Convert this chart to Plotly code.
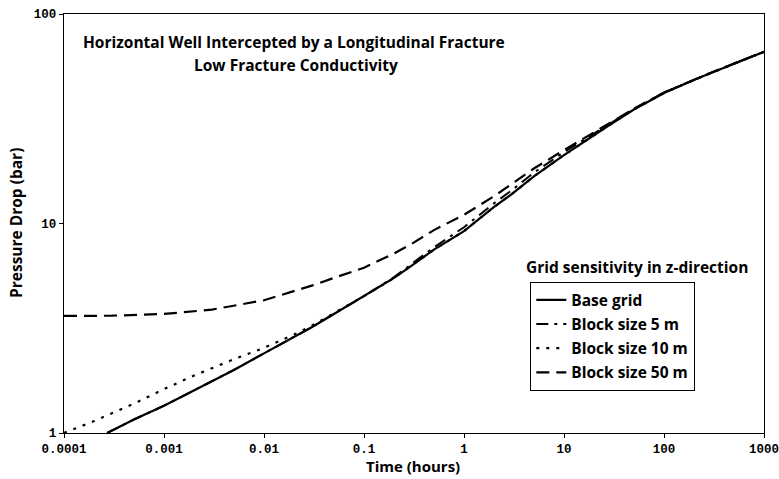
import plotly.graph_objects as go

# ---- data ----
base_t = [0.00027, 0.0005, 0.001, 0.002, 0.003, 0.005, 0.01, 0.02, 0.03, 0.05, 0.1, 0.2, 0.3, 0.5,
          1, 2, 3, 5, 10, 20, 30, 50, 100, 200, 300, 500, 1000]
base_p = [1.0, 1.16, 1.35, 1.6, 1.76, 2.0, 2.4, 2.87, 3.2, 3.7, 4.5, 5.5, 6.3, 7.5,
          9.2, 12.0, 13.8, 16.8, 21.2, 26.5, 30.0, 35.0, 42.0, 48.5, 52.5, 58.0, 66.0]

b5_t = [0.00027, 0.0005, 0.001, 0.002, 0.003, 0.005, 0.01, 0.02, 0.03, 0.05, 0.1, 0.2, 0.3, 0.5,
        1, 2, 3, 5, 10, 20, 30, 50, 100, 200, 300, 500, 1000]
b5_p = [1.0, 1.16, 1.35, 1.6, 1.76, 2.0, 2.4, 2.87, 3.2, 3.7, 4.5, 5.55, 6.4, 7.7,
        9.6, 12.5, 14.4, 17.5, 21.9, 27.0, 30.4, 35.3, 42.2, 48.6, 52.6, 58.0, 66.0]

b10_t = [0.0001, 0.0002, 0.0005, 0.001, 0.002, 0.005, 0.01, 0.02, 0.03, 0.05, 0.1, 0.2, 0.3, 0.5,
         1, 2, 3, 5, 10, 20, 30, 50, 100, 200, 300, 500, 1000]
b10_p = [1.0, 1.14, 1.38, 1.62, 1.88, 2.25, 2.55, 2.95, 3.25, 3.72, 4.5, 5.5, 6.3, 7.5,
         9.2, 12.0, 13.8, 16.8, 21.2, 26.5, 30.0, 35.0, 42.0, 48.5, 52.5, 58.0, 66.0]

b50_t = [0.0001, 0.0003, 0.001, 0.003, 0.01, 0.03, 0.05, 0.1, 0.2, 0.3, 0.5, 1, 2, 3, 5, 10, 20,
         30, 50, 100, 200, 300, 500, 1000]
b50_p = [3.62, 3.63, 3.70, 3.88, 4.3, 5.05, 5.5, 6.15, 7.2, 8.0, 9.3, 11.0, 13.5, 15.4, 18.3, 22.4,
         27.3, 30.5, 35.3, 42.1, 48.6, 52.6, 58.0, 66.0]

x_ticks = [0.0001, 0.001, 0.01, 0.1, 1, 10, 100, 1000]
x_tick_labels = ["0.0001", "0.001", "0.01", "0.1", "1", "10", "100", "1000"]
y_ticks = [1, 10, 100]
y_tick_labels = ["1", "10", "100"]

legend_names = ["Base grid", "Block size 5 m", "Block size 10 m", "Block size 50 m"]

fig = go.Figure()
fig.add_trace(go.Scatter(x=base_t, y=base_p, mode="lines", name="<b>" + legend_names[0] + "</b>",
                         legendgroup="g0", line=dict(color="black", width=2.2)))
fig.add_trace(go.Scatter(x=b5_t, y=b5_p, mode="lines", name="<b>" + legend_names[1] + "</b>",
                         legendgroup="g1", line=dict(color="black", width=2, dash="12px,6px,3px,6px")))
fig.add_trace(go.Scatter(x=b10_t, y=b10_p, mode="lines", name="<b>" + legend_names[2] + "</b>",
                         legendgroup="g2", line=dict(color="black", width=2.2, dash="3px,7px")))
fig.add_trace(go.Scatter(x=b50_t, y=b50_p, mode="lines", name="<b>" + legend_names[3] + "</b>",
                         legendgroup="g3", line=dict(color="black", width=2.2, dash="13px,7px")))

tick_font = dict(family="Liberation Mono", size=12.5, color="black")
axis_common = dict(showgrid=False, zeroline=False, showline=True, linecolor="black", linewidth=1.3,
                   mirror=True, ticks="outside", ticklen=4, tickcolor="black", tickfont=tick_font,
                   automargin=False, ticklabeloverflow="allow")
fig.update_xaxes(type="log", range=[-4, 3], tickvals=x_ticks,
                 ticktext=["<b>" + t + "</b>" for t in x_tick_labels], **axis_common)
fig.update_yaxes(type="log", range=[0, 2], tickvals=y_ticks,
                 ticktext=["<b>" + t + "</b>" for t in y_tick_labels], **axis_common)

W_PLOT = 700
txt_font = dict(family="Open Sans", size=15.5, color="black")
fig.add_annotation(text="<b>Horizontal Well Intercepted by a Longitudinal Fracture</b>",
                   xref="paper", yref="paper", x=(294 - 64) / W_PLOT, y=(433 - 42) / 419,
                   showarrow=False, xanchor="center", yanchor="middle", font=txt_font)
fig.add_annotation(text="<b>Low Fracture Conductivity</b>",
                   xref="paper", yref="paper", x=(296 - 64) / W_PLOT, y=(433 - 65) / 419,
                   showarrow=False, xanchor="center", yanchor="middle", font=txt_font)
fig.add_annotation(text="<b>Grid sensitivity in z-direction</b>",
                   xref="paper", yref="paper", x=(637 - 64) / W_PLOT, y=(433 - 267) / 419,
                   showarrow=False, xanchor="center", yanchor="middle", font=txt_font)
fig.add_annotation(text="<b>Time (hours)</b>",
                   xref="paper", yref="paper", x=(413 - 64) / W_PLOT, y=(433 - 466) / 419,
                   showarrow=False, xanchor="center", yanchor="middle",
                   font=dict(family="Open Sans", size=15, color="black"))
fig.add_annotation(text="<b>Pressure Drop (bar)</b>",
                   xref="paper", yref="paper", x=(16 - 64) / W_PLOT, y=(433 - 223) / 419,
                   showarrow=False, xanchor="center", yanchor="middle", textangle=-90,
                   font=dict(family="Open Sans", size=15.5, color="black"))

fig.update_layout(
    width=779, height=479,
    margin=dict(l=64, r=15, t=14, b=46, autoexpand=False),
    paper_bgcolor="white", plot_bgcolor="white",
    showlegend=True,
    legend=dict(x=(530 - 64) / W_PLOT, y=(433 - 282) / 419, xanchor="left", yanchor="top",
                bordercolor="black", borderwidth=1.3, bgcolor="white",
                font=dict(family="Open Sans", size=15.5, color="black"),
                tracegroupgap=1, itemwidth=30),
)

fig.write_html("out.html", config={"displayModeBar": False},
               post_script="document.body.style.margin='0px';document.body.style.overflow='hidden';")
